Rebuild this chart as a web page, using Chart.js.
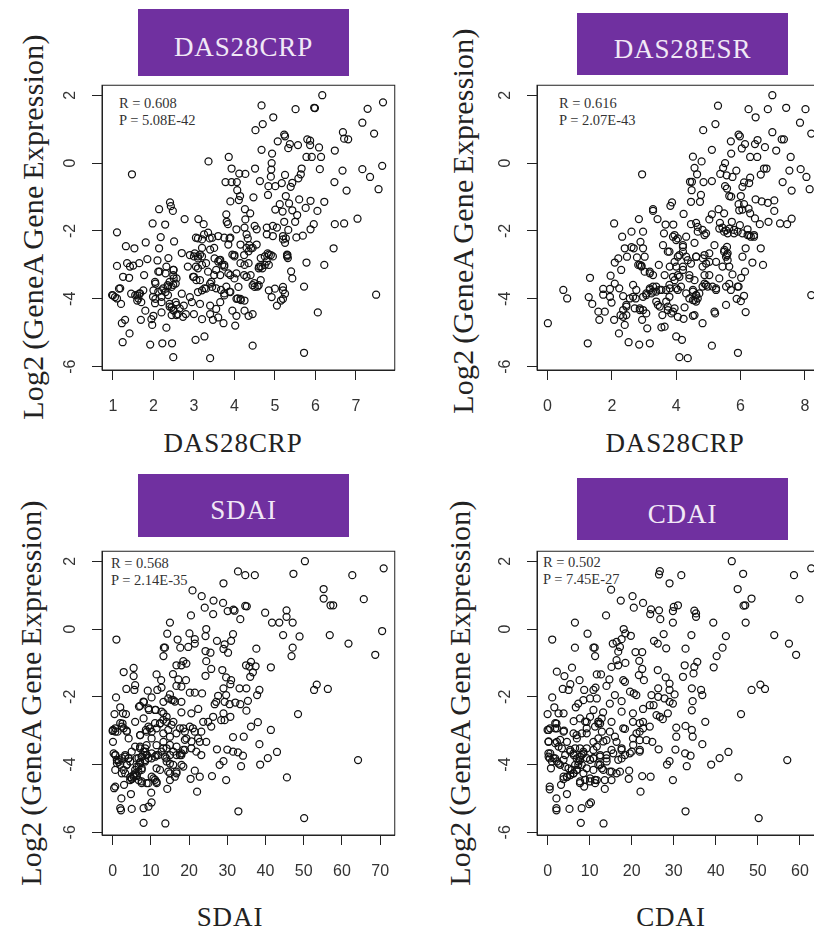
<!DOCTYPE html>
<html>
<head>
<meta charset="utf-8">
<title>GeneA vs disease activity</title>
<script src="https://cdn.jsdelivr.net/npm/chart.js@4"></script>
<style>
  html, body { margin: 0; padding: 0; background: #fff; }
  #page { position: relative; width: 814px; height: 927px; overflow: hidden; background: #fff; }
  canvas { position: absolute; filter: blur(0.35px); }
  .banner {
    position: absolute; display: flex; align-items: center; justify-content: center;
    box-sizing: border-box; padding-top: 10px; width: 211px;
    background: #7030a0; color: #f1e8f6;
    font: 27px "Liberation Serif", serif; letter-spacing: 0.9px;
  }
  .xtitle, .ytitle {
    position: absolute; white-space: nowrap; color: #222;
    font: 27px "Liberation Serif", serif; letter-spacing: 0.9px;
  }
  .xtitle { transform: translate(-50%, -50%); }
  .ytitle { font-size: 30px; letter-spacing: 0.2px; word-spacing: -2px; transform: translate(-50%, -50%) rotate(-90deg); }
  .stat { position: absolute; color: #333; font: 14.5px/17px "Liberation Serif", serif; white-space: nowrap; }
</style>
</head>
<body>
<div id="page"></div>
<script>
// ─── Data ─────────────────────────────────────────────────────────────────────

const yTicks = [2, 0, -2, -4, -6];
const crpTicks = [1, 2, 3, 4, 5, 6, 7];
const esrTicks = [0, 2, 4, 6, 8];
const sdaiTicks = [0, 10, 20, 30, 40, 50, 60, 70];
const cdaiTicks = [0, 10, 20, 30, 40, 50, 60];

const crpPoints = [
  [6.17,2],[4.67,1.7],[5.51,1.59],[5.99,1.62],[5.97,1.63],[7.67,1.79],[7.29,1.6],[7.16,1.19],[7.45,.87],[4.96,1.35],
  [4.7,1.15],[4.52,.97],[5.23,.84],[5.25,.79],[5.07,.64],[5.37,.56],[5.33,.44],[5.57,.53],[5.8,.7],[5.87,.66],
  [5.87,.53],[6.09,.46],[6.68,.91],[6.71,.72],[6.81,.7],[6.48,.37],[4.67,.39],[4.93,.28],[3.86,.18],[3.36,.05],
  [1.47,-.33],[5.78,.18],[5.91,.18],[6.14,.18],[7.65,-.08],[7.16,-.18],[6.11,-.18],[6.67,-.22],[7.35,-.41],[7.56,-.77],
  [6.77,-.81],[6.47,-.56],[4.92,0],[4.91,-.19],[4.51,-.16],[3.93,-.16],[4.12,-.31],[4.27,-.32],[4.9,-.4],[4.63,-.53],
  [3.78,-.56],[3.93,-.56],[4.06,-.56],[5.01,-.68],[4.84,-.68],[5.17,-.59],[5.25,-.35],[5.39,-.7],[5.43,-.58],[5.58,-.45],
  [5.64,-.33],[5.66,-.16],[4.07,-.8],[4.14,-.97],[4.11,-1.09],[3.9,-1.13],[4.47,-1.01],[4.83,-.94],[5.27,-.97],[5.6,-1.07],
  [5.88,-1.11],[6.22,-1.14],[5.12,-1.21],[5.35,-1.19],[5.76,-1.32],[6.05,-1.41],[5.01,-1.37],[5.19,-1.43],[5.43,-1.39],[5.55,-1.53],
  [2.41,-1.16],[2.43,-1.27],[2.48,-1.41],[2.14,-1.36],[2.77,-1.65],[1.98,-1.78],[2.29,-1.81],[3.11,-1.65],[3.24,-1.8],[3.8,-1.51],
  [3.81,-1.73],[4.26,-1.36],[4.39,-1.48],[4.27,-1.66],[3.84,-1.8],[7.04,-1.64],[6.71,-1.78],[6.48,-1.8],[5.96,-1.8],[5.88,-1.95],
  [5.69,-2.14],[5.53,-2.19],[5.23,-1.73],[5.5,-1.73],[5.33,-1.97],[1.1,-2.04],[2.18,-2.18],[2.51,-2.31],[2.14,-2.51],[1.81,-2.34],
  [1.32,-2.45],[1.53,-2.51],[2.7,-2.65],[6.45,-2.51],[5.78,-2.93],[6.22,-3],[5.4,-3.19],[5.43,-3.4],[5.72,-3.64],[7.5,-3.88],
  [6.06,-4.4],[4.45,-5.38],[5.72,-5.59],[3.4,-5.75],[2.49,-5.72],[3.26,-5.11],[3.04,-5.21],[2.46,-5.31],[2.22,-5.31],[1.92,-5.35],
  [1.24,-5.28],[1.41,-5.02],[2.32,-4.85],[1.97,-4.77],[1.22,-4.72],[1.3,-4.62],[1.69,-4.62],[3.73,-4.72],[4.02,-4.79],[3.47,-4.62],
  [1.1,-3.03],[1.25,-3.35],[1.4,-3.38],[1.35,-2.95],[1.42,-3.05],[1.5,-3.02],[1.65,-2.95],[1.77,-3.3],[1.85,-2.83],[2.1,-2.87],
  [2.37,-2.8],[2.05,-3.55],[2.3,-3.25],[2.15,-3.2],[2.4,-3.5],[2.5,-3.15],[2.5,-3.4],[2.55,-3.55],[1,-3.9],[1.05,-3.95],
  [1.15,-3.7],[1.2,-4.15],[1.45,-3.85],[1.6,-3.9],[1.6,-4.05],[1.65,-3.85],[1.75,-3.75],[1.7,-4.1],[1.8,-4.35],[2,-3.75],
  [2.05,-4],[2.2,-3.75],[2.2,-4.1],[2.3,-3.8],[2.35,-3.6],[2.45,-3.65],[2.4,-4.15],[2.45,-4.25],[2.5,-4.35],[2.55,-4.1],
  [2.6,-4.45],[2.7,-3.85],[2.75,-4.2],[2.8,-4.45],[2.9,-3.95],[2.95,-4.1],[2,-4.5],[2.2,-4.4],[1.95,-4.6],[2.85,-3.05],
  [3,-2.75],[3.1,-2.75],[3.15,-2.7],[3.2,-2.75],[3.05,-3.05],[3.1,-3.1],[3,-3.35],[3.15,-3.45],[3.2,-3],[3.3,-2.95],
  [3.35,-3.2],[3.1,-3.8],[3.2,-3.75],[3.3,-3.7],[3.4,-3.55],[3.45,-3.65],[3.5,-3.3],[3.55,-3.15],[3.6,-2.9],[3.65,-2.85],
  [3.4,-2.55],[3.5,-2.5],[3.2,-2.5],[3.25,-2.1],[3.35,-2.05],[3.45,-2.2],[3.6,-2.15],[3.75,-2.2],[3.85,-2.4],[3.9,-2.2],
  [3.05,-2.2],[3.2,-2.25],[3,-4.45],[3.15,-4.15],[3.2,-4.6],[3.4,-4.2],[3.4,-4.45],[3.55,-4.3],[3.65,-4.1],[3.6,-4.55],
  [3.75,-3.9],[3.9,-3.8],[3.85,-3.25],[3.9,-3.3],[3.65,-3.3],[3.7,-3],[3.75,-3.05],[3.95,-2.7],[4,-2.75],[4.05,-3.25],
  [4.1,-3.65],[4.05,-4],[4.15,-4],[4.25,-4.05],[3.95,-4.35],[4.05,-4.5],[4.25,-4.35],[4.35,-4.5],[4.45,-4.45],[4.05,-1.95],
  [4.25,-1.9],[4.3,-2.1],[4.15,-2.4],[4.3,-2.5],[4.35,-2.6],[4.45,-2.5],[4.55,-2.4],[4.15,-2.95],[4.25,-3],[4.35,-2.95],
  [4.4,-3.3],[4.3,-3.35],[4.45,-3.6],[4.5,-3.65],[4.6,-3.6],[4.65,-3.45],[4.6,-3.1],[4.65,-3.05],[4.75,-3],[4.8,-2.9],
  [4.85,-3],[4.65,-2.8],[4.75,-2.75],[4.85,-2.7],[4.95,-2.75],[4.5,-1.85],[4.55,-1.95],[4.8,-1.9],[4.8,-2.1],[4.95,-2.15],
  [4.95,-1.85],[5.05,-1.9],[4.85,-3.75],[5,-3.7],[4.92,-3.95],[5.05,-4.2],[5.15,-4.05],[5.2,-4],[5.2,-3.65],[5.25,-3.85],
  [5.2,-3.75],[5.2,-2.15],[5.2,-2.25],[5.25,-2.35],[5.3,-2.75],[5.32,-2.8],[5.3,-2.7],
  [2.4,-4.23],[2.49,-4.33],[2.57,-4.18],[2.65,-4.28],[2.45,-4.48],[2.57,-4.48],[2.73,-4.53],[2.12,-3.79],[2.24,-3.69],[2.36,-3.64],
  [2.49,-3.59],[2.57,-3.4],[2.49,-3.3],[2.04,-3.5],[2.12,-3.2],[2.32,-3.05],[2.49,-3.15],[1.99,-3.94],[2.04,-4.13],[2.2,-3.94],
  [2.36,-3.89],[2.9,-2.71],[3.02,-2.66],[3.1,-2.81],[2.98,-3.35],[3.06,-3.45],[3.51,-2.81],[3.63,-2.86],[3.75,-3],[3.43,-3.5],
  [3.55,-3.69],[3.67,-3.74],[3.8,-3.64],[3.26,-3.69],[4,-2.71],[4.24,-2.71],[4.41,-2.51],[4.37,-2.42],[4.49,-3.54],[4.57,-3.64],
  [4.08,-3.99],[4.16,-4.04],[3.75,-3.84],[3.88,-3.79],[4.24,-3.3],[4,-3.4],[4.82,-2.66],[4.9,-2.71],[4.69,-3.1],[4.61,-3.05],
  [5.27,-2.22],[5.31,-2.71],[3.1,-2.22],[3.39,-2.22],[3.88,-2.22],[4.33,-2.22],[1.55,-3.89],[1.67,-3.84],[1.63,-3.99],[.98,-3.89],
  [1.18,-3.69],[1.1,-3.99]
];

const esrPoints = [
  [6.99,2],[5.3,1.69],[6.25,1.59],[6.85,1.59],[7.42,1.63],[8.02,1.59],[6.47,1.35],[5.22,1.15],[4.84,.97],[7.85,1.19],
  [8.2,.87],[6.99,.91],[5.94,.84],[5.98,.79],[5.7,.64],[6.53,.68],[7.28,.7],[7.35,.7],[6.14,.56],[6.45,.56],
  [6.04,.43],[6.76,.47],[5.11,.39],[7.11,.37],[5.71,.28],[4.52,.19],[6.3,.18],[6.52,.18],[7.56,.18],[4.79,.05],
  [5.52,0],[5.46,-.14],[4.57,-.14],[6.73,-.16],[6.81,-.16],[5.87,-.22],[7.52,-.22],[7.87,-.18],[2.94,-.33],[4.65,-.33],
  [5.37,-.32],[5.57,-.36],[5.75,-.41],[6.63,-.34],[8.05,-.41],[6.3,-.43],[4.43,-.55],[4.49,-.55],[4.85,-.56],[5.11,-.53],
  [6.11,-.57],[6.27,-.59],[7.31,-.56],[7.59,-.81],[8.15,-.77],[6.06,-.7],[5.52,-.68],[5.58,-.75],[4.48,-.8],[4.77,-.94],
  [5.65,-.97],[5.71,-.99],[6.01,-.97],[4.46,-1.14],[4.74,-1.14],[3.87,-1.16],[3.82,-1.26],[6.47,-1.07],[6.66,-1.13],[6.85,-1.17],
  [7.05,-1.1],[7.05,-1.41],[6.11,-1.21],[5.94,-1.21],[6.06,-1.37],[5.96,-1.39],[6.25,-1.34],[6.3,-1.48],[5.11,-1.51],[5.32,-1.36],
  [5.49,-1.48],[5.03,-1.66],[3.28,-1.36],[3.28,-1.41],[4.23,-1.5],[2.84,-1.65],[3.42,-1.65],[2.07,-1.78],[3.67,-1.81],[3.91,-1.81],
  [4.46,-1.8],[4.62,-1.76],[7.23,-1.78],[7.45,-1.8],[7.59,-1.64],[6.87,-1.73],[6.6,-1.8],[6.45,-1.63],[5.73,-1.73],[5.36,-1.76],
  [5.98,-1.83],[6.22,-1.95],[5.44,-1.9],[5.65,-1.93],[5.8,-1.97],[5.49,-2.02],[5.6,-2.07],[6.22,-2.12],[6.32,-2.17],[6.42,-2.12],
  [5.91,-2.02],[6.06,-2.07],[4.67,-1.88],[4.82,-1.97],[4.93,-2.07],[2.61,-2.02],[2.97,-2.02],[2.32,-2.17],[2.89,-2.32],[3.62,-2.07],
  [3.59,-2.42],[3.95,-2.12],[4.05,-2.22],[4.31,-2.17],[4.57,-2.35],[2.4,-2.51],[2.61,-2.48],[2.68,-2.51],[2.97,-2.51],[2.47,-2.76],
  [2.78,-2.78],[3.02,-2.76],[2.09,-2.93],[2.2,-2.81],[2.29,-3.15],[2.87,-3],[2.92,-3.02],[3.46,-3],[6.63,-2.51],[6.16,-2.51],
  [6.06,-2.76],[6.37,-2.93],[6.7,-3],[6.14,-3.2],[6.02,-3.38],[5.75,-3.28],[5.65,-3.05],[5.44,-3.05],[5.58,-2.47],[5.58,-2.71],
  [5.6,-2.86],[5.49,-2.61],[3.79,-2.61],[4.21,-2.47],[4.05,-2.76],[4.31,-2.76],[4.62,-2.76],[4.88,-2.71],[5.03,-2.66],[5.19,-2.42],
  [4.93,-2.96],[5.24,-2.91],[4.82,-3.05],[4.21,-3.05],[4,-3.05],[3.02,-3.2],[3.18,-3.25],[1.32,-3.38],[1.96,-3.32],[2.09,-3.55],
  [.49,-3.74],[.61,-3.99],[1.28,-3.95],[1.39,-4.15],[1.58,-4.38],[1.78,-4.38],[1.61,-4.62],[2.07,-4.62],[1.73,-3.71],[1.94,-3.71],
  [1.73,-3.88],[1.94,-3.94],[1.99,-4.11],[2.23,-3.69],[2.35,-3.92],[2.66,-3.59],[2.76,-3.74],[2.56,-3.99],[2.74,-3.99],[2.45,-4.18],
  [2.35,-4.33],[2.27,-4.48],[2.45,-4.48],[2.4,-4.77],[2.71,-4.28],[2.87,-4.33],[3.07,-4.43],[2.94,-4.62],[3.1,-4.87],[2.22,-5.02],
  [1.25,-5.31],[2.52,-5.28],[2.85,-5.35],[3.18,-5.31],[.01,-4.72],[4,-5.11],[4.18,-5.21],[4.1,-5.72],[4.36,-5.75],[5.11,-5.38],
  [5.92,-5.59],[4.82,-4.72],[3.54,-4.84],[3.64,-4.82],[3.57,-4.48],[5.19,-4.38],[5.21,-4.43],[5.55,-4.18],[5.88,-4],[6.01,-4.07],
  [6.11,-3.91],[6.16,-4.39],[5.94,-3.64],[5.65,-3.56],[5.7,-3.74],[5.24,-3.69],[5.34,-3.4],[8.2,-3.89],[4.57,-4.48],[4.52,-4.5],
  [4.23,-4.59],[4.05,-4.53],[3.9,-4.38],[3.95,-4.28],[3.74,-4.23],[4.26,-4.25],[3.43,-4.18],[3.38,-4.08],[3.07,-3.84],[3.18,-3.74],
  [3.28,-3.64],[3.23,-3.84],[3.38,-3.79],[3.48,-3.74],[3.69,-3.74],[3.79,-3.59],[3.9,-3.35],[4.05,-3.3],[4.15,-3.64],[4.31,-3.84],
  [4.52,-3.74],[4.62,-3.89],[4.72,-3.84],[4.62,-4.08],[4.52,-4.04],[4.82,-3.64],[4.93,-3.59],[4.88,-3.3],[4.57,-3.45],[4.41,-3.3],
  [5.13,-3.64],[4.05,-3.74],[3.79,-3.94],[3.69,-4.08],[2.97,-3.94],
  [3.18,-3.69],[3.28,-3.79],[3.07,-3.89],[3.38,-3.64],[3.54,-3.74],[3.8,-3.69],[4,-3.69],[3.95,-3.45],[4.1,-3.35],[4.1,-2.71],
  [4.21,-2.61],[4.36,-2.86],[4.46,-2.96],[4.62,-2.76],[4.83,-2.81],[5.03,-2.91],[5.5,-2.56],[5.6,-2.66],[5.55,-2.76],[5.34,-1.93],
  [5.55,-1.98],[5.8,-2.07],[6.27,-2.12],[6.42,-2.17],[4.52,-3.79],[4.62,-3.89],[4.57,-4.04],[4.67,-3.99],[4.41,-3.99],[4.88,-3.55],
  [4.98,-3.64],[3.74,-4.33],[3.85,-4.43],[3.49,-4.23],[2.82,-3],[2.92,-3.05],[3.18,-3.2],[3.28,-3.3],[2.66,-3.94],[2.45,-4.23],
  [2.87,-4.28],[2.97,-4.33],[2.35,-4.53],[3.95,-2.91],[3.8,-3.05],[3.64,-3.3],[4.21,-3.15],[4.41,-3.4],[5.03,-3.3],[5.24,-3.74],
  [5.55,-3.64],[5.91,-3.64],[3.9,-2.17],[4,-2.27],[4.21,-2.42],[3.74,-2.61],[4.67,-2.02],[4.88,-2.12]
];

const sdaiPoints = [
  [50.3,2],[32.8,1.7],[34.7,1.59],[37.2,1.59],[47.3,1.63],[62.7,1.59],[70.9,1.79],[29,1.35],[55.2,1.18],[55.2,.9],
  [65.7,.88],[20.9,1.14],[23.3,.97],[26.4,.84],[28.9,.77],[24.1,.63],[26.3,.44],[30.1,.53],[31.6,.57],[31.9,.54],
  [34.7,.68],[35.1,.67],[33.4,.29],[39.9,.48],[45.5,.55],[45.5,.36],[47.1,.19],[41.7,.19],[43.6,.19],[20.5,.4],
  [15,.19],[57,.7],[57.7,.7],[70.5,-.06],[56.8,-.18],[61.7,-.43],[68.7,-.76],[44.6,-.18],[48.9,-.22],[47.1,-.55],
  [46.8,-.8],[1,-.31],[14.3,-.14],[17,-.31],[20.1,-.13],[21.5,-.3],[21.5,-.43],[19.8,-.53],[24.5,0],[24.3,-.21],
  [27.3,-.35],[31.5,-.15],[31,-.35],[29.3,-.45],[29,-.59],[30.2,-.7],[13.4,-.55],[13.7,-.55],[17.7,-.55],[13.3,-.8],
  [24.3,-.65],[25.6,-.7],[24.5,-.95],[37.6,-.58],[36.2,-.97],[34.9,-1.07],[37.4,-1.1],[41.4,-1.13],[35.8,-1.11],[36.7,-1.28],
  [36,-1.41],[5.5,-1.15],[2.9,-1.27],[5.5,-1.39],[5.9,-1.66],[5.7,-1.8],[3.6,-1.77],[11.5,-1.34],[12.7,-1.51],[12.8,-1.73],
  [11.7,-1.8],[15.8,-1.33],[16.7,-1.07],[18,-1.07],[18.5,-.95],[19.3,-1.02],[25.8,-1.18],[24.3,-1.38],[28.7,-1.21],[29.7,-1.43],
  [31,-1.51],[30.8,-1.63],[29,-1.75],[33.2,-1.75],[35,-1.75],[38.4,-1.8],[37.8,-1.95],[35.4,-2.12],[35,-2.41],[17.2,-1.49],
  [19.2,-1.51],[16.7,-1.68],[18,-1.7],[53.4,-1.64],[52.7,-1.8],[56.3,-1.77],[48.5,-2.51],[.9,-2.02],[.5,-2.51],[2,-2.31],
  [3.5,-2.51],[2.7,-2.49],[9.2,-1.82],[6.9,-2.29],[8.2,-2.16],[10.2,-2.02],[11.3,-2.39],[9.5,-2.39],[15,-1.93],[13.3,-2.15],
  [15.9,-2.1],[18,-2.15],[20.2,-1.88],[21.5,-1.88],[23.4,-1.9],[27.6,-1.97],[27.1,-2.15],[26.7,-2.22],[29.7,-1.95],[29.3,-2.15],
  [30.6,-2.22],[32.1,-2.17],[33.4,-2.22],[22.4,-2.36],[20.6,-2.49],[18,-2.46],[13.3,-2.49],[26.3,-2.59],[29,-2.49],[30.8,-2.59],
  [28.4,-2.69],[29.3,-2.69],[36.2,-2.88],[38,-2.75],[41.4,-2.98],[34.3,-3.18],[31.5,-3.19],[38.4,-3.4],[27.3,-3.55],[30,-3.56],
  [31.5,-3.62],[32.8,-3.64],[34.1,-3.74],[43,-3.63],[40.6,-3.81],[38.6,-4],[33.6,-4.05],[29,-3.9],[28,-4.01],[45.6,-4.38],
  [64.2,-3.87],[29.7,-4.46],[26,-4.34],[22.8,-4.36],[20.4,-4.42],[21.5,-4.18],[22.1,-4.8],[14.3,-4.72],[32.9,-5.38],[50.1,-5.58],
  [13.8,-5.74],[8.1,-5.72],[8.1,-5.29],[9.4,-5.24],[10.2,-5.12],[5,-5.31],[2,-5.29],[2.2,-5.35],[2.3,-5],[4.8,-4.87],
  [.7,-4.65],[.4,-4.7],[3,-4.6],[10.1,-4.83],[7.6,-4.55],[8.9,-4.55],[0,-3.01],[.7,-2.93],[.1,-3.33],[1.3,-3.03],
  [2.6,-2.79],[2.9,-2.93],[3.7,-3],[4.2,-3.23],[5.9,-2.74],[8.1,-2.64],[8.7,-2.98],[7.2,-3.13],[9.8,-2.93],[11.5,-2.93],
  [12.4,-2.79],[14.1,-2.74],[15.9,-2.74],[18.5,-2.93],[16.7,-3.08],[19.3,-3.23],[21,-2.93],[23.7,-2.74],[25,-2.74],[25.8,-2.88],
  [23.2,-3.03],[24.5,-3.33],[22.8,-3.33],[21.9,-3.62],[23.2,-3.72],[20.6,-3.52],[18.5,-3.57],[17.6,-3.72],[15.9,-3.62],[14.1,-3.82],
  [12.8,-3.62],[11.5,-3.43],[10.2,-3.23],[8.9,-3.43],[7.2,-3.52],[8.5,-3.62],[7.6,-3.77],[8.9,-3.72],[6.3,-3.82],[7.2,-3.92],
  [8.5,-3.87],[6.8,-4.06],[7.6,-4.16],[5.9,-4.26],[5,-4.41],[5.5,-4.36],[4.6,-4.46],[6.3,-4.31],[6.8,-4.46],[.7,-3.72],
  [1.1,-3.87],[.7,-4.16],[1.6,-3.92],[3.3,-3.72],[3.7,-4.01],[2.4,-4.26],[5,-3.62],[4.2,-3.82],[11.5,-4.11],[10.7,-4.41],
  [11.5,-4.51],[12.4,-4.16],[15,-3.97],[15,-4.26],[16.7,-4.21],[16.3,-4.36],[18.5,-4.06],[18,-3.72],[15,-4.46],[10.2,-3.82],
  [11.5,-3.72],[13.3,-3.33],[15,-3.18],[14.1,-3.52],
  [8.07,-3.62],[8.93,-3.72],[7.63,-3.77],[6.77,-3.81],[9.37,-3.81],[8.5,-3.91],[7.2,-3.96],[6.33,-4.06],[7.63,-4.11],[5.9,-4.16],
  [6.77,-4.21],[5.47,-4.31],[4.6,-4.37],[6.33,-4.34],[5.03,-4.43],[4.17,-3.81],[3.3,-3.77],[2.43,-3.81],[1.57,-3.86],[.7,-3.72],
  [1.13,-3.96],[2,-4.01],[.27,-3.67],[8.5,-3.52],[7.2,-3.47],[5.9,-3.47],[10.23,-3.67],[11.1,-3.77],[11.96,-3.72],[13.7,-3.77],
  [15,-3.72],[16.73,-3.72],[18.03,-3.67],[18.9,-3.57],[10.23,-4.36],[11.1,-4.45],[11.53,-4.55],[9.37,-4.55],[7.63,-4.5],[3.3,-4.26],
  [2.87,-4.16],[3.73,-4.01],[4.6,-3.91],[10.23,-3.03],[8.93,-3.03],[7.2,-3.13],[9.37,-2.88],[11.1,-2.78],[12.4,-2.78],[13.26,-2.68],
  [14.13,-2.59],[15.43,-2.09],[16.3,-2.14],[14.56,-2.05],[12.83,-2.44],[11.1,-2.39],[9.37,-2.34],[8.07,-2.14],[7.2,-2.27],[2,-2.78],
  [2.43,-2.88],[.1,-2.98],[.7,-3.03],[3.73,-3.03],[13.26,-3.08],[14.56,-2.98],[15.43,-2.83],[17.6,-2.93],[18.9,-3.03],[20.2,-2.88],
  [21.5,-3.03],[22.36,-3.23],[20.63,-3.32],[18.9,-3.27],[16.73,-3.47],[15,-3.42],[13.26,-3.52],[18.03,-4.01],[15.86,-4.01],[14.13,-3.91],
  [14.56,-4.21],[16.73,-4.26]
];

const cdaiPoints = [
  [43.8,2],[26.7,1.71],[26.5,1.61],[31.8,1.59],[46.5,1.63],[58.6,1.59],[62.7,1.79],[29,1.35],[45.2,1.18],[59.9,.88],
  [48.5,.9],[15.1,1.16],[20.2,.97],[17.4,.84],[22.7,.77],[20.5,.63],[24.6,.58],[24.4,.44],[26.5,.55],[26.8,.29],
  [30,.65],[31,.7],[29.8,.53],[34.9,.54],[35.3,.46],[35.3,.36],[46.6,.69],[47,.7],[29.8,.19],[39.4,.19],
  [47.1,.19],[13.9,.4],[6.5,.19],[34.2,-.18],[42.4,-.21],[53.9,-.18],[57.4,-.43],[59.1,-.76],[41.6,-.55],[40.2,-.8],
  [39.5,-1.13],[1.1,-.31],[9.5,-.14],[18.1,0],[18.5,-.13],[19.8,-.2],[17.6,-.3],[16.4,-.38],[15.5,-.43],[17.2,-.53],
  [6.5,-.55],[10.9,-.55],[11.2,-.55],[11.3,-.8],[25.3,-.35],[26.2,-.43],[27.6,-.15],[28.2,-.57],[32.8,-.58],[20.9,-.68],
  [22.5,-.68],[16.8,-.67],[16.4,-.92],[21.8,-.94],[18.5,-1],[16.8,-1.07],[15.2,-1.12],[32.6,-1.07],[35.6,-.97],[34.9,-1.12],
  [34.7,-1.31],[22.5,-1.18],[26.2,-1.21],[21.7,-1.36],[22.9,-1.51],[28.1,-1.43],[29,-1.61],[32.2,-1.41],[2.2,-1.26],[4,-1.39],
  [5.8,-1.14],[5.4,-1.63],[3.6,-1.77],[5,-1.8],[7.6,-1.51],[11.7,-1.34],[12.7,-1.34],[14.7,-1.49],[14,-1.68],[11.4,-1.73],
  [10.9,-1.8],[18,-1.51],[18.4,-1.56],[8.7,-1.8],[50.6,-1.64],[51.7,-1.77],[48.5,-1.8],[34.3,-1.75],[36.5,-1.8],[36.8,-1.95],
  [34.5,-2.13],[34.3,-2.4],[46,-2.51],[37.5,-2.74],[1.1,-2.02],[0,-2.51],[1.6,-2.31],[2.6,-2.49],[3.8,-2.49],[26.3,-1.75],
  [29,-1.8],[30.2,-1.93],[24.7,-1.95],[26.3,-2],[27.8,-2.05],[29,-2.15],[29.8,-2.2],[24.3,-2.25],[25.2,-2.25],[22.7,-2.36],
  [19.6,-1.85],[20.5,-1.9],[21.1,-1.95],[16,-1.95],[17.6,-2.13],[14.8,-2.2],[11.7,-2.05],[10.1,-2.05],[8.5,-2.1],[7.3,-2.2],
  [6.7,-2.31],[10.9,-2.39],[13.2,-2.46],[17.6,-2.44],[20.3,-2.49],[25.9,-2.54],[28.6,-2.49],[27.4,-2.66],[26.7,-2.59],[15.2,-2.74],
  [12.1,-2.79],[10.1,-2.59],[7.7,-2.64],[6.2,-2.72],[2.1,-2.79],[0,-2.98],[.6,-2.93],[1.8,-2.93],[3.9,-3],[.2,-3.33],
  [2.2,-3.33],[4.6,-3.33],[6.9,-3.13],[9.3,-2.93],[9.3,-3.08],[12.5,-2.79],[12.9,-3.03],[14.8,-3.03],[18.4,-2.95],[20.3,-2.74],
  [21.9,-3.03],[22.7,-2.74],[24.3,-2.88],[23.5,-3.28],[24.9,-3.33],[21.9,-3.28],[20.3,-3.23],[30.6,-2.91],[30.6,-3.18],[32.8,-2.86],
  [34.3,-2.98],[34.5,-3.18],[36.8,-3.4],[26.4,-3.55],[30.4,-3.56],[32.7,-3.67],[34,-3.74],[43,-3.63],[40.9,-3.81],[38.9,-4],
  [33.1,-4.05],[29,-3.9],[28.4,-4],[45.4,-4.38],[57,-3.87],[29.8,-4.46],[22.5,-4.34],[24.5,-4.36],[19.3,-4.42],[19.4,-4.18],
  [22.1,-4.8],[13.6,-4.72],[32.8,-5.38],[50.2,-5.58],[13.3,-5.74],[7.9,-5.72],[8.1,-5.29],[9.9,-5.17],[10.3,-5.12],[5.2,-5.31],
  [2.1,-5.29],[2.1,-5.35],[2.1,-5],[4.6,-4.87],[.5,-4.65],[.5,-4.73],[3.2,-4.6],[8.7,-4.65],[7.7,-4.55],[11.3,-4.55],
  [11.7,-4.46],[10.1,-4.41],[13.6,-4.46],[14.8,-4.21],[16.4,-4.26],[15.2,-4.46],[17.2,-4.21],[3.8,-4.36],[4.6,-4.36],[5.4,-4.31],
  [6.2,-4.26],[6.9,-4.16],[7.3,-4.01],[7.7,-3.87],[8.1,-3.72],[8.5,-3.62],[6.9,-3.82],[6.2,-3.72],[5.4,-3.62],[7.7,-3.52],
  [9.3,-3.52],[.2,-3.67],[.5,-3.82],[1.8,-3.82],[.8,-4.11],[2.6,-3.97],[4.2,-4.07],[3.4,-3.52],[10.9,-3.33],[11.7,-3.47],
  [12.5,-3.72],[14,-3.82],[10.9,-3.82],[9.3,-4.11],[12.9,-4.11],[15.2,-3.57],[17.6,-3.52],[18.4,-3.72],[20,-3.62],[21.9,-3.62],
  [17.6,-3.82],[16.4,-3.33],[14,-3.28],[9.3,-2.74],
  [7.73,-3.77],[8.52,-3.67],[7.34,-3.91],[6.55,-4.01],[8.13,-4.01],[6.95,-4.16],[6.16,-4.26],[5.37,-4.31],[4.58,-4.37],[3.79,-4.43],
  [5.76,-4.16],[4.97,-4.11],[6.16,-3.67],[5.37,-3.57],[6.55,-3.52],[9.31,-3.81],[10.1,-3.86],[10.89,-3.81],[12.47,-3.77],[14.04,-3.72],
  [15.62,-3.67],[17.59,-3.57],[.64,-3.67],[.24,-3.77],[1.42,-3.81],[1.03,-3.91],[2.21,-3.91],[3,-4.01],[3.79,-3.86],[4.18,-3.72],
  [2.61,-3.47],[3,-3.27],[1.82,-2.78],[2.21,-2.93],[.24,-2.98],[.24,-3.32],[1.82,-3.37],[3.79,-3.03],[6.16,-3.08],[6.95,-3.23],
  [8.13,-3.08],[8.92,-2.73],[11.28,-2.88],[12.07,-2.73],[12.86,-2.64],[12.07,-3.23],[13.25,-3.32],[10.89,-3.57],[14.04,-3.91],[12.47,-4.01],
  [10.89,-4.16],[13.25,-4.16],[15.23,-4.21],[16.8,-3.86],[19.56,-3.67],[20.35,-3.42],[21.93,-3.57],[21.14,-3.08],[22.72,-2.93],[21.93,-2.78],
  [17.99,-2.93],[16.01,-3.18],[8.92,-4.45],[10.1,-4.5],[7.73,-4.5],[11.28,-4.45],[12.07,-4.01],[8.52,-4.26]
];

// ─── Panels ───────────────────────────────────────────────────────────────────

const panels = [
  { title: 'DAS28CRP', xLabel: 'DAS28CRP', r: 'R = 0.608', p: 'P = 5.08E-42', points: crpPoints, ticks: crpTicks,
    xMin: 0.73, xMax: 7.96, yMin: -6.098, yMax: 2.294,
    left: 0, top: 80, axisW: 102, plotW: 294, plotH: 285,
    banner: [138, 9, 67], xPos: [233, 443], yPos: [33, 227], stat: [119, 95] },
  { title: 'DAS28ESR', xLabel: 'DAS28CRP', r: 'R = 0.616', p: 'P = 2.07E-43', points: esrPoints, ticks: esrTicks,
    xMin: -0.328, xMax: 8.775, yMin: -6.098, yMax: 2.294,
    left: 430, top: 80, axisW: 107, plotW: 294, plotH: 285,
    banner: [577, 13, 62], xPos: [675, 443], yPos: [463, 221], stat: [559, 95] },
  { title: 'SDAI', xLabel: 'SDAI', r: 'R = 0.568', p: 'P = 2.14E-35', points: sdaiPoints, ticks: sdaiTicks,
    xMin: -2.77, xMax: 73.8, yMin: -6.08, yMax: 2.295,
    left: 0, top: 546, axisW: 102, plotW: 294, plotH: 284,
    banner: [138, 474, 63], xPos: [230, 917], yPos: [31, 693], stat: [111, 555] },
  { title: 'CDAI', xLabel: 'CDAI', r: 'R = 0.502', p: 'P = 7.45E-27', points: cdaiPoints, ticks: cdaiTicks,
    xMin: -2.52, xMax: 67.1, yMin: -6.08, yMax: 2.295,
    left: 430, top: 546, axisW: 107, plotW: 294, plotH: 284,
    banner: [577, 478, 62], xPos: [671, 917], yPos: [460, 693], stat: [543, 554] },
];

const page = document.getElementById('page');
const axisColor = '#222';
const tickFont = { family: '"Liberation Sans", sans-serif', size: 16 };

function addText(cls, text, x, y) {
  const el = document.createElement('div');
  el.className = cls;
  el.textContent = text;
  el.style.left = x + 'px';
  el.style.top = y + 'px';
  page.appendChild(el);
  return el;
}

// R's plot() draws a full box round the plot area
const boxPlugin = {
  id: 'plotBox',
  afterDraw(chart) {
    const { ctx, chartArea: a } = chart;
    ctx.save();
    ctx.strokeStyle = axisColor;
    ctx.lineWidth = 1;
    ctx.strokeRect(a.left, a.top, a.right - a.left, a.bottom - a.top);
    ctx.restore();
  },
};

panels.forEach(panel => {
  const banner = addText('banner', panel.title, panel.banner[0], panel.banner[1]);
  banner.style.height = panel.banner[2] + 'px';
  addText('xtitle', panel.xLabel, panel.xPos[0], panel.xPos[1]);
  addText('ytitle', 'Log2 (GeneA Gene Expression)', panel.yPos[0], panel.yPos[1]);
  const stat = addText('stat', '', panel.stat[0], panel.stat[1]);
  stat.innerHTML = panel.r + '<br>' + panel.p;

  const canvas = document.createElement('canvas');
  const w = panel.axisW + panel.plotW + 4;
  const h = panel.plotH + 5 + 45;
  canvas.width = w;
  canvas.height = h;
  canvas.style.left = panel.left + 'px';
  canvas.style.top = panel.top + 'px';
  canvas.style.width = w + 'px';
  canvas.style.height = h + 'px';
  page.appendChild(canvas);

  new Chart(canvas, {
    type: 'scatter',
    data: {
      datasets: [{
        data: panel.points,
        pointStyle: 'circle',
        pointRadius: 3.5,
        pointBorderWidth: 1.25,
        pointBorderColor: '#111',
        pointBackgroundColor: 'transparent',
      }],
    },
    options: {
      responsive: false,
      animation: false,
      devicePixelRatio: 1,
      layout: { padding: { top: 5, right: 4, left: 0, bottom: 0 } },
      plugins: { legend: { display: false }, tooltip: { enabled: false } },
      scales: {
        x: {
          min: panel.xMin,
          max: panel.xMax,
          afterFit: s => { s.height = 45; s.paddingLeft = 0; s.paddingRight = 0; },
          afterBuildTicks: s => { s.ticks = panel.ticks.map(value => ({ value })); },
          border: { color: axisColor },
          grid: { drawOnChartArea: false, tickLength: 10, color: axisColor },
          ticks: { font: tickFont, color: '#333', padding: 17, autoSkip: false, maxRotation: 0, callback: v => String(v) },
        },
        y: {
          min: panel.yMin,
          max: panel.yMax,
          afterFit: s => { s.width = panel.axisW; s.paddingTop = 0; s.paddingBottom = 0; },
          afterBuildTicks: s => { s.ticks = yTicks.map(value => ({ value })); },
          border: { color: axisColor },
          grid: { drawOnChartArea: false, tickLength: 10, color: axisColor },
          ticks: { font: tickFont, color: '#333', padding: 14, autoSkip: false, minRotation: 90, maxRotation: 90, crossAlign: 'center', callback: v => String(v) },
        },
      },
    },
    plugins: [boxPlugin],
  });
});
</script>
</body>
</html>
